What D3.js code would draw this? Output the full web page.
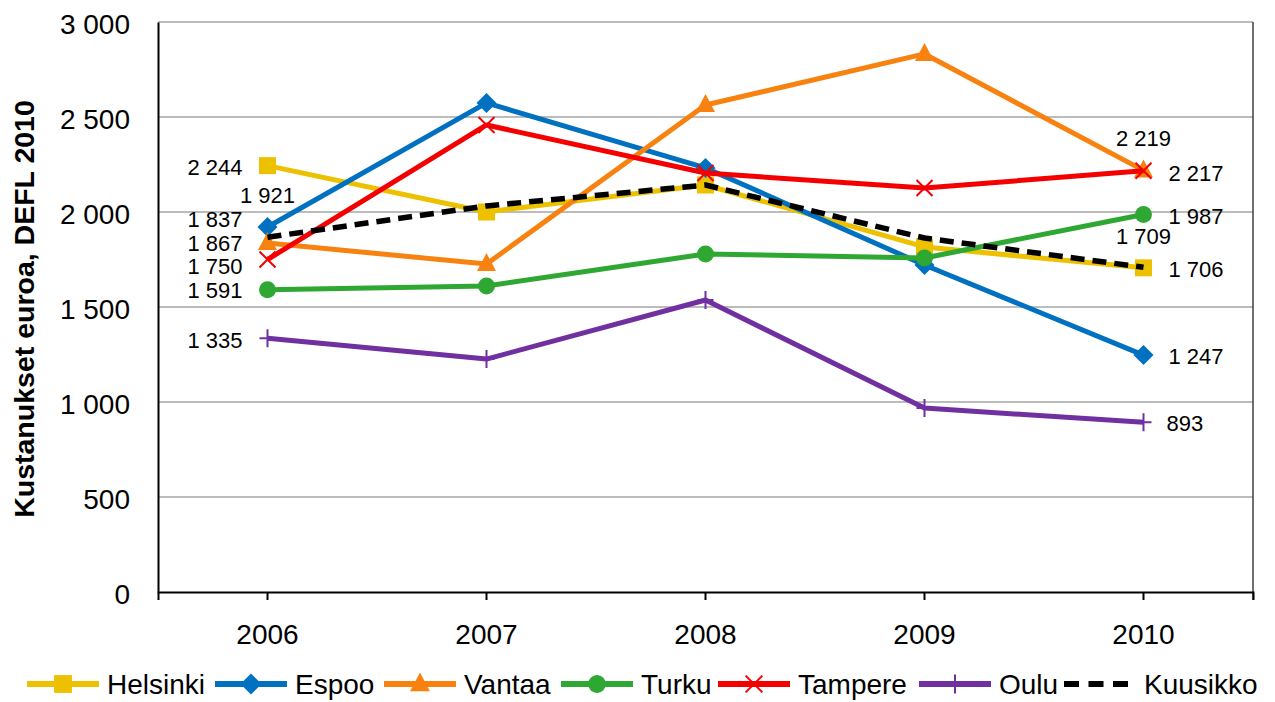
<!DOCTYPE html>
<html><head><meta charset="utf-8">
<script src="https://cdn.jsdelivr.net/npm/d3@7"></script>
<style>body{margin:0;background:#fff;}svg{display:block;font-family:"Liberation Sans",Arial,sans-serif;}</style>
</head><body><svg id="c" width="1275" height="702"></svg>
<script>
const years = ["2006","2007","2008","2009","2010"];
const yTicks = [0,500,1000,1500,2000,2500,3000];
const helsinki = [2244,2000,2142,1816,1706];
const espoo    = [1921,2574,2232,1721,1247];
const vantaa   = [1837,1726,2563,2832,2219];
const turku    = [1591,1611,1779,1758,1987];
const tampere  = [1750,2458,2205,2126,2217];
const oulu     = [1335,1226,1537,968,893];
const kuusikko = [1867,2032,2142,1863,1709];
const seriesNames = ["Helsinki","Espoo","Vantaa","Turku","Tampere","Oulu","Kuusikko"];
const seriesColors = ["#EDC100","#0070C0","#F8820F","#2EA832","#F40000","#7030A0","#000000"];
const seriesMarkers = ["square","diamond","triangle","circle","x","plus","none"];
const seriesData = [helsinki,espoo,vantaa,turku,tampere,oulu,kuusikko];
const yTitle = "Kustanukset euroa, DEFL 2010";

const fmt = v => { const s = String(v); return s.length>3 ? s.slice(0,-3)+" "+s.slice(-3) : s; };

const FONT = "Liberation Sans, Arial, sans-serif";
const svg = d3.select("#c");
const L=158, R=1253, T=22, B=592;
const x = d3.scaleBand().domain(years).range([L,R]);
const y = d3.scaleLinear().domain([0,3000]).range([B,T]);
const cx = yr => x(yr)+x.bandwidth()/2;

// gridlines
svg.append("g").selectAll("line").data(yTicks.filter(d=>d>0)).join("line")
  .attr("x1",L).attr("x2",R).attr("y1",d=>y(d)).attr("y2",d=>y(d))
  .attr("stroke","#A6A6A6").attr("stroke-width",1.5);
// right border
svg.append("line").attr("x1",R).attr("x2",R).attr("y1",T).attr("y2",B+8).attr("stroke","#404040").attr("stroke-width",1.5);

// y axis
const ya = svg.append("g").attr("transform",`translate(${L},0)`)
  .call(d3.axisLeft(y).tickValues(yTicks).tickFormat(fmt).tickSize(0).tickPadding(28));
ya.select(".domain").attr("stroke","#000").attr("stroke-width",2);
ya.selectAll("text").attr("font-size",28).attr("fill","#000").attr("font-family",FONT).attr("dy","0.42em");

// x axis
const xa = svg.append("g").attr("transform",`translate(0,${B})`)
  .call(d3.axisBottom(x).tickSize(8).tickPadding(24));
xa.select(".domain").attr("stroke","#000").attr("stroke-width",2);
xa.selectAll(".tick line").attr("stroke","#000").attr("stroke-width",2);
xa.selectAll("text").attr("font-size",28).attr("fill","#000").attr("font-family",FONT);

// y title
svg.append("text").attr("transform",`translate(24,${(T+B)/2+2}) rotate(-90)`)
  .attr("text-anchor","middle").attr("dy","0.35em").attr("font-size",28.5).attr("font-weight","bold").text(yTitle);

function marker(g, type, color, px, py, k){
  k = k||1;
  if(type==="square") g.append("rect").attr("x",px-8.5*k).attr("y",py-8.5*k).attr("width",17*k).attr("height",17*k).attr("fill",color);
  else if(type==="diamond") g.append("path").attr("d",`M${px},${py-10*k}L${px+10*k},${py}L${px},${py+10*k}L${px-10*k},${py}Z`).attr("fill",color);
  else if(type==="triangle") g.append("path").attr("d",`M${px},${py-11*k}L${px+9.5*k},${py+7*k}L${px-9.5*k},${py+7*k}Z`).attr("fill",color);
  else if(type==="circle") g.append("circle").attr("cx",px).attr("cy",py).attr("r",8.5*k).attr("fill",color);
  else if(type==="x") g.append("path").attr("d",`M${px-8*k},${py-8*k}L${px+8*k},${py+8*k}M${px+8*k},${py-8*k}L${px-8*k},${py+8*k}`).attr("stroke",color).attr("stroke-width",2);
  else if(type==="plus") g.append("path").attr("d",`M${px-8*k},${py}L${px+8*k},${py}M${px},${py-9*k}L${px},${py+9*k}`).attr("stroke",color).attr("stroke-width",2);
}

const line = d3.line().x((d,i)=>cx(years[i])).y(d=>y(d));
seriesData.forEach((data,si)=>{
  const g = svg.append("g");
  const p = g.append("path").datum(data).attr("d",line).attr("fill","none")
    .attr("stroke",seriesColors[si]).attr("stroke-width",5).attr("stroke-linejoin","round");
  if(seriesMarkers[si]==="none") p.attr("stroke-dasharray","14,8").attr("stroke-width",5.5);
  data.forEach((v,i)=>{ if(seriesMarkers[si]!=="none") marker(g,seriesMarkers[si],seriesColors[si],cx(years[i]),y(v)); });
});

// data labels: [series index, year index, dx, dy, anchor]
const labelSpecs = [
  [0,0,-25,1,"end"],[1,0,0,-32,"middle"],[2,0,-25,-24,"end"],[6,0,-25,6,"end"],[4,0,-25,6.5,"end"],[3,0,-25,0,"end"],[5,0,-25,2,"end"],
  [2,4,0,-32,"middle"],[4,4,25,2,"start"],[3,4,25,1.5,"start"],[6,4,0,-31,"middle"],[0,4,25,1,"start"],[1,4,25,1,"start"],[5,4,23,1,"start"]
];
svg.append("g").selectAll("text").data(labelSpecs).join("text")
  .attr("x",d=>cx(years[d[1]])+d[2]).attr("y",d=>y(seriesData[d[0]][d[1]])+d[3])
  .attr("dy","0.36em").attr("text-anchor",d=>d[4]).attr("font-size",22)
  .text(d=>fmt(seriesData[d[0]][d[1]]));

// legend
const legX = [27,215,384,561,718,919,1064];
const lg = svg.append("g");
seriesNames.forEach((n,i)=>{
  const x0=legX[i], ly=684, c=seriesColors[i];
  const dashed = seriesMarkers[i]==="none";
  const l = lg.append("line").attr("x1",x0).attr("x2",x0+(dashed?64:72)).attr("y1",ly).attr("y2",ly).attr("stroke",c).attr("stroke-width",6);
  if(dashed){ l.attr("stroke-dasharray","15,9.5"); }
  else marker(lg,seriesMarkers[i],c,x0+36,ly,1.05);
  lg.append("text").attr("x",x0+80).attr("y",ly).attr("dy","0.36em").attr("font-size",28).text(n);
});
</script></body></html>
